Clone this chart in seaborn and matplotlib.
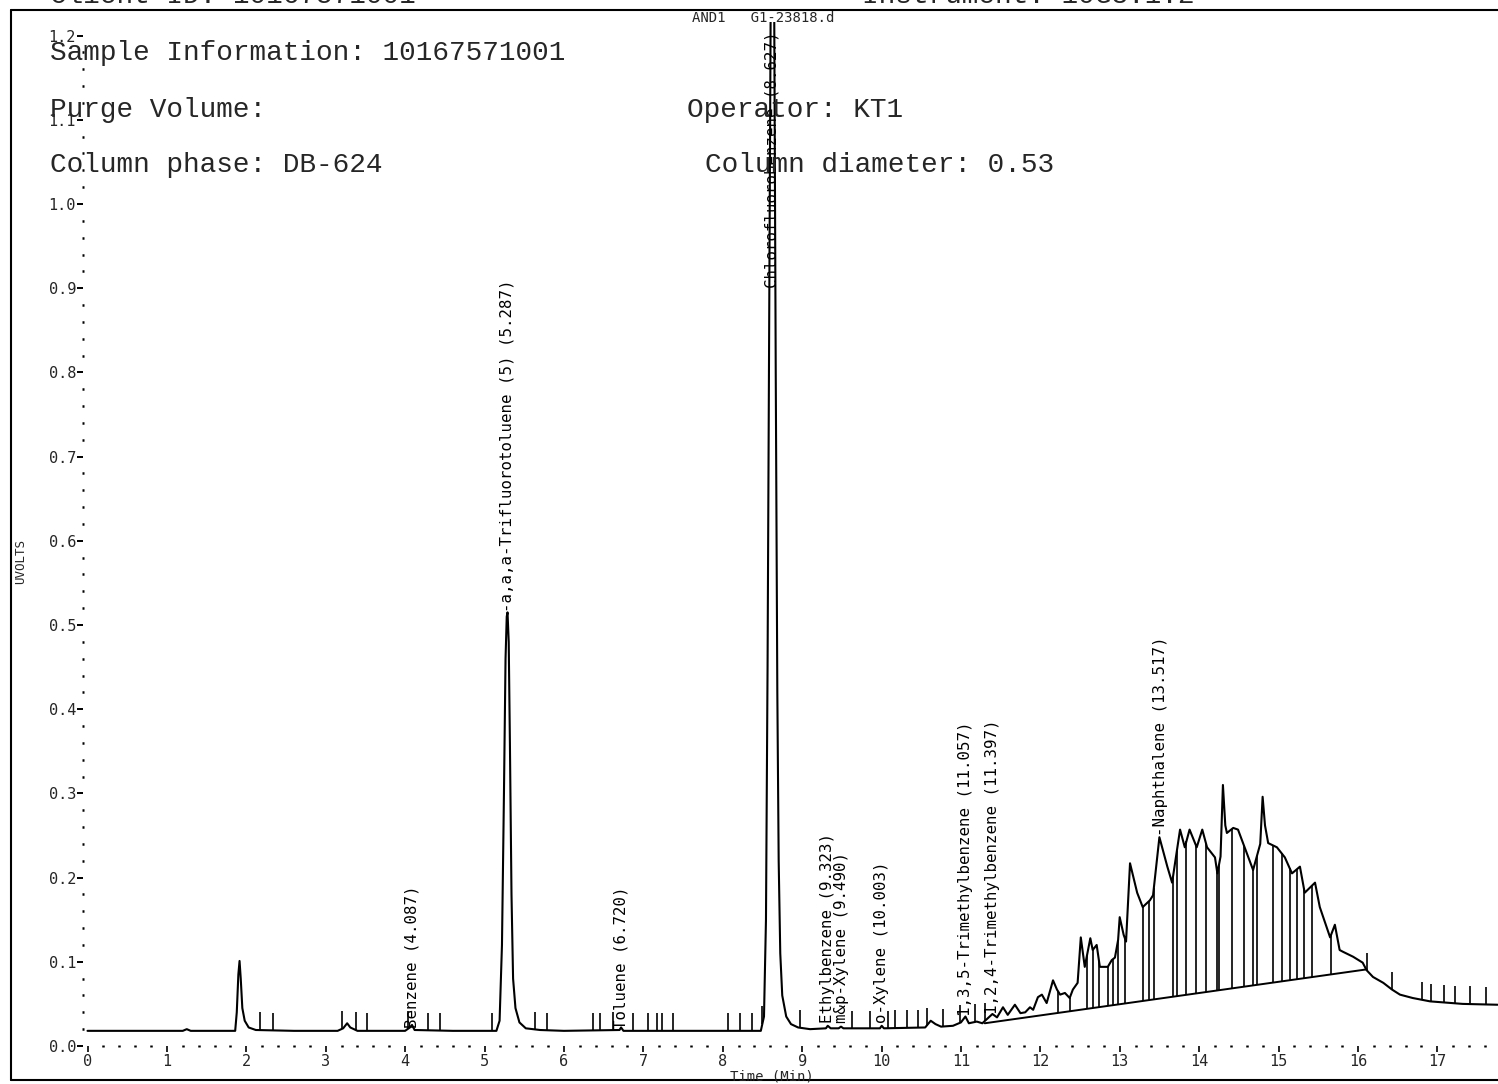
import numpy as np
import matplotlib
matplotlib.use("Agg")
import matplotlib.pyplot as plt
import seaborn as sns
from matplotlib.lines import Line2D
from matplotlib.ticker import MultipleLocator, FixedLocator, FormatStrFormatter

# ---------------- data ----------------
trace_time = [0.00, 0.60, 1.20, 1.25, 1.30, 1.86, 1.88, 1.90, 1.915, 1.93, 1.95, 1.98, 2.03, 2.12,
              2.60, 3.15, 3.22, 3.27, 3.31, 3.40, 4.00, 4.06, 4.087, 4.12, 4.60,
              5.15, 5.19, 5.22, 5.245, 5.265, 5.28, 5.29, 5.305, 5.32, 5.34, 5.36, 5.39, 5.44, 5.52,
              5.70, 6.00, 6.70, 6.72, 6.75, 7.50, 8.48,
              8.52, 8.545, 8.565, 8.585, 8.605, 8.627, 8.648, 8.668, 8.688, 8.705, 8.725, 8.75, 8.80,
              8.86, 8.95, 9.10, 9.30, 9.323, 9.36, 9.46, 9.49, 9.52, 9.98, 10.003, 10.03,
              10.55, 10.62, 10.68, 10.75, 10.90, 11.00, 11.057, 11.10, 11.20, 11.27, 11.34, 11.397,
              11.455, 11.53, 11.59, 11.68, 11.75, 11.81, 11.87, 11.91, 11.97, 12.02, 12.08, 12.16,
              12.21, 12.25, 12.31, 12.37, 12.41, 12.47, 12.51, 12.56, 12.63, 12.66, 12.71, 12.75,
              12.85, 12.90, 12.94, 12.98, 13.00, 13.05, 13.08, 13.13, 13.22, 13.29, 13.38, 13.42,
              13.50, 13.60, 13.66, 13.76, 13.82, 13.88, 13.97, 14.04, 14.10, 14.20, 14.23, 14.27,
              14.30, 14.33, 14.35, 14.43, 14.49, 14.60, 14.68, 14.77, 14.80, 14.83, 14.87, 14.98,
              15.08, 15.17, 15.27, 15.33, 15.46, 15.52, 15.65, 15.71, 15.77, 15.81, 15.94, 16.06,
              16.11, 16.19, 16.32, 16.43, 16.53, 16.69, 16.91, 17.32, 17.76]
trace_uv = [0.018, 0.018, 0.018, 0.020, 0.018, 0.018, 0.040, 0.085, 0.101, 0.080, 0.045, 0.030, 0.022, 0.019,
            0.018, 0.018, 0.021, 0.027, 0.022, 0.018, 0.018, 0.022, 0.025, 0.019, 0.018,
            0.018, 0.030, 0.120, 0.300, 0.460, 0.510, 0.515, 0.480, 0.360, 0.180, 0.080, 0.045, 0.028, 0.021,
            0.019, 0.018, 0.019, 0.022, 0.018, 0.018, 0.018,
            0.035, 0.150, 0.450, 0.850, 1.250, 1.550, 1.250, 0.800, 0.420, 0.220, 0.110, 0.060, 0.035,
            0.026, 0.022, 0.020, 0.021, 0.024, 0.021, 0.021, 0.023, 0.021, 0.021, 0.024, 0.021,
            0.022, 0.030, 0.026, 0.023, 0.024, 0.028, 0.035, 0.027, 0.029, 0.027, 0.033, 0.038,
            0.034, 0.046, 0.037, 0.049, 0.039, 0.040, 0.046, 0.043, 0.058, 0.061, 0.051, 0.078,
            0.067, 0.061, 0.063, 0.057, 0.067, 0.075, 0.129, 0.094, 0.128, 0.114, 0.120, 0.094,
            0.094, 0.102, 0.105, 0.126, 0.153, 0.132, 0.124, 0.217, 0.182, 0.165, 0.173, 0.179,
            0.248, 0.213, 0.194, 0.257, 0.236, 0.257, 0.236, 0.257, 0.236, 0.224, 0.205, 0.225,
            0.310, 0.262, 0.253, 0.259, 0.257, 0.229, 0.209, 0.240, 0.296, 0.262, 0.241, 0.236,
            0.224, 0.205, 0.213, 0.182, 0.194, 0.165, 0.129, 0.144, 0.114, 0.112, 0.106, 0.099,
            0.090, 0.082, 0.075, 0.067, 0.061, 0.057, 0.053, 0.050, 0.049]

# integration tick marks (peak start/stop markers)
tick_times = [2.17, 2.33, 3.20, 3.38, 3.52, 4.04, 4.29, 4.44, 5.09, 5.64, 5.79,
              6.37, 6.45, 6.62, 6.87, 7.06, 7.17, 7.23, 7.37, 8.07, 8.22, 8.37, 8.50,
              8.97, 9.63, 9.85, 10.08, 10.17, 10.32, 10.46, 10.57, 10.77, 10.99, 11.18, 11.30,
              16.11, 16.43, 16.81, 16.92, 17.08, 17.22, 17.41, 17.61]

# drop lines in the unresolved hump
drop_times = [12.22, 12.37, 12.59, 12.66, 12.74, 12.85, 12.92, 12.98, 13.07, 13.29, 13.37, 13.43,
              13.67, 13.72, 13.84, 13.96, 14.09, 14.22, 14.25, 14.42, 14.56, 14.68, 14.73,
              14.93, 15.04, 15.14, 15.23, 15.32, 15.42, 15.66]

baseline_time = [11.30, 16.11]
baseline_uv = [0.027, 0.091]

peak_names = ["Benzene (4.087)", "-a,a,a-Trifluorotoluene (5) (5.287)", "Toluene (6.720)",
              "Chlorofluorobenzene (8.627)", "Ethylbenzene (9.323)", "m&p-Xylene (9.490)",
              "o-Xylene (10.003)", "1,3,5-Trimethylbenzene (11.057)",
              "1,2,4-Trimethylbenzene (11.397)", "-Naphthalene (13.517)"]
peak_times = [4.087, 5.287, 6.720, 8.627, 9.323, 9.490, 10.003, 11.057, 11.397, 13.517]
label_base = [0.021, 0.516, 0.020, 0.900, 0.027, 0.027, 0.027, 0.036, 0.038, 0.249]

x_ticks = list(range(0, 18))
y_ticks = [0.0, 0.1, 0.2, 0.3, 0.4, 0.5, 0.6, 0.7, 0.8, 0.9, 1.0, 1.1, 1.2]

header_lines = [
    ("Client ID: 10167571001", 50, 3),
    ("Instrument: 10G3.1.2", 862, 3),
]
info_lines = [
    ("Sample Information: 10167571001", 50, 53),
    ("Purge Volume:", 50, 110),
    ("Operator: KT1", 687, 110),
    ("Column phase: DB-624", 50, 165),
    ("Column diameter: 0.53", 705, 165),
]
file_title = "AND1   G1-23818.d"
y_label = "UVOLTS"
x_label = "Time (Min)"

# ---------------- figure ----------------
sns.set_style("white")
plt.rcParams['font.family'] = ['DejaVu Sans Mono', 'DejaVu Sans']

W, H = 1498, 1084
fig = plt.figure(figsize=(W / 100, H / 100), dpi=100)
fig.patch.set_facecolor("white")

left_px, right_px, top_px, bottom_px = 83, 1498, 22, 1046
ax = fig.add_axes([left_px / W, (H - bottom_px) / H, (right_px - left_px) / W, (bottom_px - top_px) / H])
ax.set_facecolor("white")

px_per_min = 79.4
px_per_unit = 842.0
x0 = -(87.5 - left_px) / px_per_min
x1 = (right_px - 87.5) / px_per_min
ax.set_xlim(x0, x1)
ax.set_ylim(0, (bottom_px - top_px) / px_per_unit)

sns.lineplot(x=trace_time, y=trace_uv, sort=False, estimator=None, color="black",
             linewidth=1.5, ax=ax)

# sloped baseline and drop lines
ax.plot(baseline_time, baseline_uv, color="black", linewidth=1.4)
t_arr = np.array(drop_times)
b_at = np.interp(t_arr, baseline_time, baseline_uv)
tr_at = np.interp(t_arr, trace_time, trace_uv)
ax.vlines(t_arr, b_at, tr_at, color="black", linewidth=1.2)

# integration markers
tk = np.array(tick_times)
tk_base = np.interp(tk, trace_time, trace_uv)
ax.vlines(tk, tk_base, tk_base + 0.021, color="black", linewidth=1.2)

# peak labels
for name, t, b in zip(peak_names, peak_times, label_base):
    ax.text(t, b, name, rotation=90, ha="center", va="bottom", fontsize=11.3,
            family="DejaVu Sans Mono", color="black")

# axes styling: dotted axes like the plotter output
for s in ax.spines.values():
    s.set_visible(False)
ax.xaxis.set_major_locator(FixedLocator(x_ticks))
ax.xaxis.set_minor_locator(MultipleLocator(0.2))
ax.yaxis.set_major_locator(FixedLocator(y_ticks))
ax.yaxis.set_minor_locator(MultipleLocator(0.02))
ax.yaxis.set_major_formatter(FormatStrFormatter("%.1f"))
ax.xaxis.set_major_formatter(FormatStrFormatter("%d"))
ax.tick_params(axis="both", which="both", bottom=True, left=True, top=False, right=False)
ax.tick_params(axis="x", which="major", direction="out", length=4, width=1.2, pad=2,
               labelsize=11, color="black")
ax.tick_params(axis="x", which="minor", direction="inout", length=1.8, width=1.8, color="black")
ax.tick_params(axis="y", which="major", direction="out", length=4, width=1.4, pad=1,
               labelsize=11, color="black")
ax.tick_params(axis="y", which="minor", direction="inout", length=1.8, width=1.8, color="black")

fig.text(21 / W, (H - 562) / H, y_label, rotation=90, ha="center", va="center", fontsize=9,
         family="DejaVu Sans Mono")
fig.text(772 / W, (H - 1076) / H, x_label, ha="center", va="center", fontsize=10,
         family="DejaVu Sans Mono")

# header / info text
for s, x, y in header_lines:
    fig.text(x / W, (H - y) / H, s, ha="left", va="baseline", fontsize=20,
             family="Liberation Mono")
for s, x, y in info_lines:
    fig.text(x / W, (H - y) / H, s, ha="left", va="center", fontsize=20,
             family="Liberation Mono")
fig.text(763 / W, (H - 18) / H, file_title, ha="center", va="center", fontsize=10,
         family="DejaVu Sans Mono")

# page frame
fr_l, fr_t, fr_b = 11, 10, 1080
for (xa, ya, xb, yb) in [(fr_l, fr_t, W, fr_t), (fr_l, fr_t, fr_l, fr_b), (fr_l, fr_b, W, fr_b)]:
    fig.add_artist(Line2D([xa / W, xb / W], [(H - ya) / H, (H - yb) / H],
                          transform=fig.transFigure, color="black", linewidth=1.5))

fig.savefig("out.png", dpi=100, facecolor="white")
